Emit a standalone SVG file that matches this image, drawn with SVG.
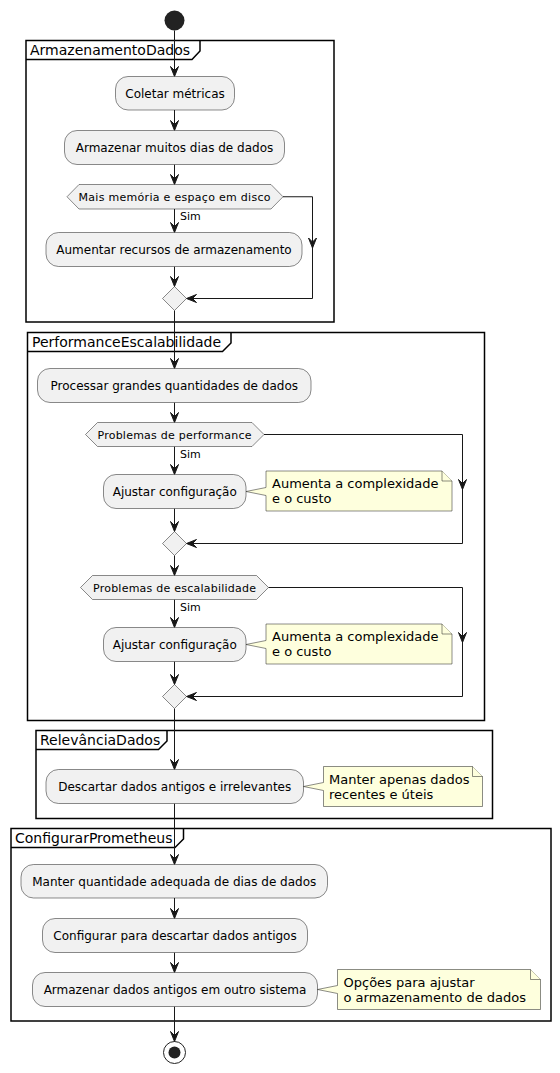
<svg xmlns="http://www.w3.org/2000/svg" width="560" height="1073" viewBox="0 0 560 1073">
<defs>
<style>
.frame{fill:none;stroke:#000;stroke-width:1.5}
.ftitle{font-family:"DejaVu Sans",sans-serif;font-size:14px;fill:#000}
.act{fill:#F1F1F1;stroke:#181818;stroke-width:0.5}
.atext{font-family:"DejaVu Sans",sans-serif;font-size:12px;fill:#000;text-anchor:middle}
.dec{fill:#F1F1F1;stroke:#181818;stroke-width:0.5}
.dtext{font-family:"DejaVu Sans",sans-serif;font-size:11px;fill:#000}
.lbl{font-family:"DejaVu Sans",sans-serif;font-size:11px;fill:#000}
.note{fill:#FEFFDD;stroke:#181818;stroke-width:0.5}
.ntext{font-family:"DejaVu Sans",sans-serif;font-size:13px;fill:#000}
.edge{fill:none;stroke:#181818;stroke-width:1}
.ah{fill:#181818;stroke:#181818;stroke-width:1}
</style>
<polygon id="ad" points="0,0 -4,-10 0,-6 4,-10"/>
<polygon id="al" points="0,0 10,-4 6,0 10,4"/>
</defs>
<rect width="560" height="1073" fill="#fff"/>

<g id="frames">
<g id="frame-armazenamento">
<rect class="frame" x="26" y="40.5" width="308" height="281.5"/>
<path class="frame" d="M26,59.5 L192,59.5 L200,51 L200,40.5"/>
<text class="ftitle" x="30" y="54.5">ArmazenamentoDados</text>
</g>
<g id="frame-performance">
<rect class="frame" x="27.5" y="332.5" width="457" height="388"/>
<path class="frame" d="M27.5,351.5 L222.5,351.5 L231,343 L231,332.5"/>
<text class="ftitle" x="32" y="346.5">PerformanceEscalabilidade</text>
</g>
<g id="frame-relevancia">
<rect class="frame" x="36" y="730.5" width="456.5" height="88"/>
<path class="frame" d="M36,749.5 L158.5,749.5 L167,741 L167,730.5"/>
<text class="ftitle" x="40" y="744.5">RelevânciaDados</text>
</g>
<g id="frame-configurar">
<rect class="frame" x="11" y="828.5" width="540" height="192.5"/>
<path class="frame" d="M11,847.5 L175,847.5 L183.5,839 L183.5,828.5"/>
<text class="ftitle" x="15" y="842.5">ConfigurarPrometheus</text>
</g>
</g>

<g id="connectors">
<path class="edge" d="M174.5,30.5 V76.5"/>
<use href="#ad" class="ah" x="174.5" y="76.5"/>
<path class="edge" d="M174.5,110 V130.5"/>
<use href="#ad" class="ah" x="174.5" y="130.5"/>
<path class="edge" d="M174.5,164.5 V184.5"/>
<use href="#ad" class="ah" x="174.5" y="184.5"/>
<path class="edge" d="M174.5,209 V232.5"/>
<use href="#ad" class="ah" x="174.5" y="232.5"/>
<path class="edge" d="M174.5,266.5 V286.5"/>
<use href="#ad" class="ah" x="174.5" y="286.5"/>
<path class="edge" d="M283,196.75 H312.5 V298.5 H186.5"/>
<use href="#ad" class="ah" x="312.5" y="248"/>
<use href="#al" class="ah" x="186.5" y="298.5"/>
<path class="edge" d="M174.5,310.5 V368.5"/>
<use href="#ad" class="ah" x="174.5" y="368.5"/>
<path class="edge" d="M174.5,402.5 V422.5"/>
<use href="#ad" class="ah" x="174.5" y="422.5"/>
<path class="edge" d="M174.5,446.5 V474.5"/>
<use href="#ad" class="ah" x="174.5" y="474.5"/>
<path class="edge" d="M174.5,508.5 V531.5"/>
<use href="#ad" class="ah" x="174.5" y="531.5"/>
<path class="edge" d="M264,434.5 H462.5 V543.5 H186.5"/>
<use href="#ad" class="ah" x="462.5" y="489.5"/>
<use href="#al" class="ah" x="186.5" y="543.5"/>
<path class="edge" d="M174.5,555.5 V575.5"/>
<use href="#ad" class="ah" x="174.5" y="575.5"/>
<path class="edge" d="M174.5,599.5 V627.5"/>
<use href="#ad" class="ah" x="174.5" y="627.5"/>
<path class="edge" d="M174.5,661.5 V684.5"/>
<use href="#ad" class="ah" x="174.5" y="684.5"/>
<path class="edge" d="M268.5,587.5 H462.5 V696.5 H186.5"/>
<use href="#ad" class="ah" x="462.5" y="642.5"/>
<use href="#al" class="ah" x="186.5" y="696.5"/>
<path class="edge" d="M174.5,708.5 V769.5"/>
<use href="#ad" class="ah" x="174.5" y="769.5"/>
<path class="edge" d="M174.5,803.5 V864.5"/>
<use href="#ad" class="ah" x="174.5" y="864.5"/>
<path class="edge" d="M174.5,898 V918.5"/>
<use href="#ad" class="ah" x="174.5" y="918.5"/>
<path class="edge" d="M174.5,952.5 V972.5"/>
<use href="#ad" class="ah" x="174.5" y="972.5"/>
<path class="edge" d="M174.5,1006.5 V1041.5"/>
<use href="#ad" class="ah" x="174.5" y="1041.5"/>
</g>

<g id="start">
<circle cx="174.5" cy="20.5" r="10" fill="#222"/>
</g>

<g id="coletar">
<rect class="act" x="115.5" y="76.5" width="119" height="33.5" rx="12.5"/>
<text class="atext" x="175" y="97.5">Coletar métricas</text>
</g>
<g id="armazenar-muitos">
<rect class="act" x="64.5" y="130.5" width="220" height="34" rx="12.5"/>
<text class="atext" x="174.5" y="151.5">Armazenar muitos dias de dados</text>
</g>
<g id="dec-memoria">
<polygon class="dec" points="67,196.75 79,184.5 271,184.5 283,196.75 271,209 79,209"/>
<text class="dtext" x="78.5" y="200.5" textLength="192" lengthAdjust="spacing">Mais memória e espaço em disco</text>
<text class="lbl" x="180" y="219.5">Sim</text>
</g>
<g id="aumentar">
<rect class="act" x="46" y="232.5" width="256" height="34" rx="12.5"/>
<text class="atext" x="174" y="253.5">Aumentar recursos de armazenamento</text>
</g>
<g id="merge1">
<polygon class="dec" points="174.5,286.5 186.5,298.5 174.5,310.5 162.5,298.5"/>
</g>

<g id="processar">
<rect class="act" x="37.5" y="368.5" width="273.5" height="34" rx="12.5"/>
<text class="atext" x="174.25" y="389.5">Processar grandes quantidades de dados</text>
</g>
<g id="dec-performance">
<polygon class="dec" points="85.5,434.5 97.5,422.5 252,422.5 264,434.5 252,446.5 97.5,446.5"/>
<text class="dtext" x="97.5" y="438.5" textLength="154" lengthAdjust="spacing">Problemas de performance</text>
<text class="lbl" x="180" y="457.5">Sim</text>
</g>
<g id="ajustar1">
<rect class="act" x="103.5" y="474.5" width="142.5" height="34" rx="12.5"/>
<text class="atext" x="174.75" y="495.5">Ajustar configuração</text>
</g>
<g id="note1">
<path class="note" d="M266,471 H442 L452,481 V511 H266 V495.5 L246,491.5 L266,487.5 Z"/>
<path class="note" d="M442,471 V481 H452"/>
<text class="ntext" x="272" y="488">Aumenta a complexidade</text>
<text class="ntext" x="272" y="503">e o custo</text>
</g>
<g id="merge2">
<polygon class="dec" points="174.5,531.5 186.5,543.5 174.5,555.5 162.5,543.5"/>
</g>
<g id="dec-escalabilidade">
<polygon class="dec" points="80.5,587.5 92.5,575.5 256.5,575.5 268.5,587.5 256.5,599.5 92.5,599.5"/>
<text class="dtext" x="93" y="591.5" textLength="163" lengthAdjust="spacing">Problemas de escalabilidade</text>
<text class="lbl" x="180" y="610.5">Sim</text>
</g>
<g id="ajustar2">
<rect class="act" x="103.5" y="627.5" width="142.5" height="34" rx="12.5"/>
<text class="atext" x="174.75" y="648.5">Ajustar configuração</text>
</g>
<g id="note2">
<path class="note" d="M266,624 H442 L452,634 V664 H266 V648.5 L246,644.5 L266,640.5 Z"/>
<path class="note" d="M442,624 V634 H452"/>
<text class="ntext" x="272" y="641">Aumenta a complexidade</text>
<text class="ntext" x="272" y="656">e o custo</text>
</g>
<g id="merge3">
<polygon class="dec" points="174.5,684.5 186.5,696.5 174.5,708.5 162.5,696.5"/>
</g>

<g id="descartar">
<rect class="act" x="46" y="769.5" width="257.5" height="34" rx="12.5"/>
<text class="atext" x="174.75" y="790.5">Descartar dados antigos e irrelevantes</text>
</g>
<g id="note3">
<path class="note" d="M323.5,766.5 H472.5 L482.5,776.5 V806.5 H323.5 V790.5 L303.5,786.5 L323.5,782.5 Z"/>
<path class="note" d="M472.5,766.5 V776.5 H482.5"/>
<text class="ntext" x="329" y="783.5">Manter apenas dados</text>
<text class="ntext" x="329" y="798.5">recentes e úteis</text>
</g>

<g id="manter">
<rect class="act" x="21" y="864.5" width="306.5" height="33.5" rx="12.5"/>
<text class="atext" x="174.25" y="885.5">Manter quantidade adequada de dias de dados</text>
</g>
<g id="configurar-descartar">
<rect class="act" x="42.5" y="918.5" width="265" height="34" rx="12.5"/>
<text class="atext" x="175" y="939.5">Configurar para descartar dados antigos</text>
</g>
<g id="armazenar-outro">
<rect class="act" x="32.5" y="972.5" width="285" height="34" rx="12.5"/>
<text class="atext" x="175" y="993.5">Armazenar dados antigos em outro sistema</text>
</g>
<g id="note4">
<path class="note" d="M337.5,969.5 H530.5 L540.5,979.5 V1009.5 H337.5 V993.5 L317.5,989.5 L337.5,985.5 Z"/>
<path class="note" d="M530.5,969.5 V979.5 H540.5"/>
<text class="ntext" x="343.5" y="986.5">Opções para ajustar</text>
<text class="ntext" x="343.5" y="1001.5">o armazenamento de dados</text>
</g>

<g id="end">
<circle cx="174.5" cy="1052.5" r="11" fill="none" stroke="#222" stroke-width="1"/>
<circle cx="174.5" cy="1052.5" r="6" fill="#222"/>
</g>
</svg>
